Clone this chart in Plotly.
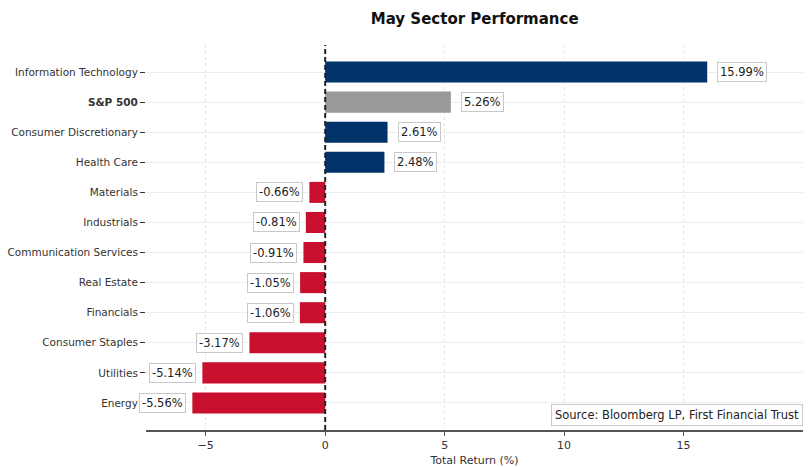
import plotly.graph_objects as go

sectors = ["Information Technology", "S&P 500", "Consumer Discretionary", "Health Care",
           "Materials", "Industrials", "Communication Services", "Real Estate",
           "Financials", "Consumer Staples", "Utilities", "Energy"]
returns = [15.99, 5.26, 2.61, 2.48, -0.66, -0.81, -0.91, -1.05, -1.06, -3.17, -5.14, -5.56]
x_ticks = [-5, 0, 5, 10, 15]

NAVY = "#003369"
GRAY = "#999999"
RED = "#C8102E"

colors = []
for s, v in zip(sectors, returns):
    if s == "S&P 500":
        colors.append(GRAY)
    elif v >= 0:
        colors.append(NAVY)
    else:
        colors.append(RED)

idx = list(range(len(sectors)))

fig = go.Figure()
fig.add_trace(go.Bar(
    x=returns, y=idx, orientation="h",
    marker=dict(color=colors, line=dict(width=0)),
    width=0.7, showlegend=False, hoverinfo="skip",
))

font = "DejaVu Sans, Liberation Sans, sans-serif"

for i, v in zip(idx, returns):
    fig.add_annotation(
        x=v, y=i, xref="x", yref="y",
        text=f"{v:.2f}%", showarrow=False,
        xanchor="left" if v >= 0 else "right",
        xshift=10 if v >= 0 else -6,
        font=dict(family=font, size=11.5, color="#222222"),
        bgcolor="white", bordercolor="#c8c8c8", borderwidth=1, borderpad=2,
    )

fig.add_shape(type="line", xref="x", yref="paper", x0=0, x1=0, y0=0, y1=1,
              line=dict(color="#222222", width=2, dash="5px,3px"))

fig.add_annotation(
    x=1, y=0.01, xref="paper", yref="paper", xanchor="right", yanchor="bottom",
    text="Source: Bloomberg LP, First Financial Trust", showarrow=False,
    font=dict(family=font, size=11.5, color="#222222"),
    bgcolor="white", bordercolor="#c8c8c8", borderwidth=1, borderpad=3,
)

ticktext = [f"<b>{s}</b>" if s == "S&P 500" else s for s in sectors]

fig.update_layout(
    width=808, height=467,
    margin=dict(l=146, r=5, t=45, b=37),
    paper_bgcolor="white", plot_bgcolor="white",
    font=dict(family=font, size=11, color="#333333"),
    title=dict(text="<b>May Sector Performance</b>", x=0.5875, xanchor="center",
               y=0.96, yanchor="middle",
               font=dict(family=font, size=15, color="#111111")),
    bargap=0.3,
)
fig.update_xaxes(
    range=[-7.5, 20], tickvals=x_ticks, ticktext=[("\u2212" + str(-t)) if t < 0 else str(t) for t in x_ticks],
    showgrid=True, gridcolor="#e6e6e6", griddash="dot", gridwidth=1,
    zeroline=False, showline=True, linecolor="#555555", linewidth=2,
    ticks="outside", ticklen=4, tickcolor="#555555",
    title=dict(text="Total Return (%)", font=dict(family=font, size=11, color="#333333"), standoff=7),
    tickfont=dict(size=11, color="#333333"),
    automargin=False,
)
fig.update_yaxes(
    tickmode="array", tickvals=idx, ticktext=ticktext,
    range=[11.9, -0.9],
    showgrid=True, gridcolor="#ededf0", gridwidth=1.2,
    zeroline=False, showline=False,
    ticks="outside", ticklen=5, tickcolor="#333333",
    tickfont=dict(size=10.5, color="#333333"),
    automargin=False,
)

fig.write_html("out.html")
